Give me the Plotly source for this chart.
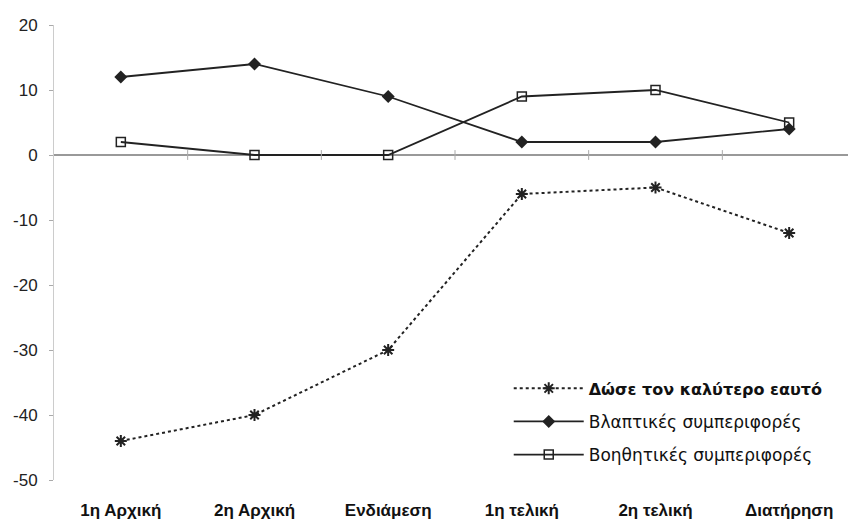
import plotly.graph_objects as go

categories = ["1η Αρχική", "2η Αρχική", "Ενδιάμεση", "1η τελική", "2η τελική", "Διατήρηση"]
best_self = [-44, -40, -30, -6, -5, -12]
harmful = [12, 14, 9, 2, 2, 4]
helpful = [2, 0, 0, 9, 10, 5]
y_ticks = [20, 10, 0, -10, -20, -30, -40, -50]
y_tick_labels = [str(v) for v in y_ticks]

x_idx = list(range(len(categories)))
dark = "#222222"

fig = go.Figure()
fig.add_trace(go.Scatter(
    x=x_idx, y=best_self,
    name="<span style='font-size:16px'><b>Δώσε τον καλύτερο εαυτό</b></span>", legendgroup="a",
    mode="lines+markers",
    line=dict(color=dark, width=2, dash="dot"),
    marker=dict(symbol="asterisk-open", size=10, line=dict(color=dark, width=2)),
))
fig.add_trace(go.Scatter(
    x=x_idx, y=harmful, name="Βλαπτικές συμπεριφορές", legendgroup="b",
    mode="lines+markers",
    line=dict(color=dark, width=1.8),
    marker=dict(symbol="diamond", size=10, color=dark),
))
fig.add_trace(go.Scatter(
    x=x_idx, y=helpful, name="Βοηθητικές συμπεριφορές", legendgroup="c",
    mode="lines+markers",
    line=dict(color=dark, width=1.8),
    marker=dict(symbol="square-open", size=9, color=dark, line=dict(color=dark, width=1.5)),
))
# category boundary tick marks on the zero axis
fig.add_trace(go.Scatter(
    x=[i + 0.5 for i in x_idx[:-1]], y=[0] * (len(categories) - 1),
    mode="markers", showlegend=False, hoverinfo="skip",
    marker=dict(symbol="line-ns-open", size=7, color="#aaaaaa", line=dict(color="#aaaaaa", width=1)),
))

fig.update_layout(
    width=848, height=524,
    margin=dict(l=46, r=0, t=17, b=52),
    paper_bgcolor="white", plot_bgcolor="white",
    font=dict(family="Liberation Sans, Arial, sans-serif", size=15, color=dark),
    showlegend=True,
    legend=dict(
        x=0.567, y=0.24, xanchor="left", yanchor="top",
        bgcolor="rgba(0,0,0,0)", itemwidth=70,
        traceorder="grouped", tracegroupgap=8,
        font=dict(family="DejaVu Sans, sans-serif", size=17, color="#111111"),
    ),
    xaxis=dict(
        range=[-0.5, 5.5], tickmode="array", tickvals=x_idx, ticktext=categories,
        showgrid=False, showline=False, zeroline=False, ticks="",
        tickfont=dict(size=17, color="#111111", weight="bold"), ticklabelstandoff=18,
    ),
    yaxis=dict(
        range=[-50, 20], tickmode="array", tickvals=y_ticks, ticktext=y_tick_labels,
        showgrid=False, showline=True, linecolor="#cccccc", linewidth=1,
        ticks="outside", ticklen=4, tickcolor="#aaaaaa", ticklabelstandoff=8,
        zeroline=True, zerolinecolor="#999999", zerolinewidth=1.5,
        tickfont=dict(size=17, color="#222222"),
    ),
)

fig.write_html("out.html")
